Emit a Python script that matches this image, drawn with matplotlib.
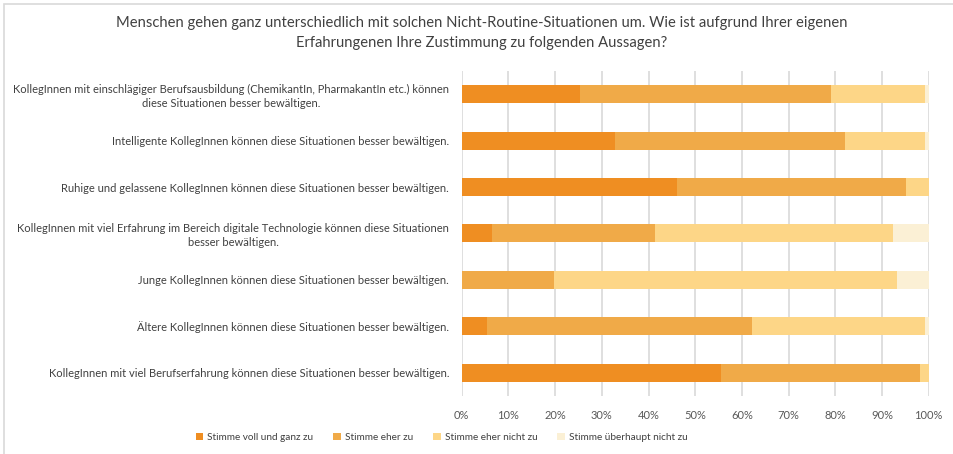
import numpy as np
import matplotlib
matplotlib.use("Agg")
import matplotlib.pyplot as plt
from matplotlib.patches import Rectangle

plt.rcParams['font.family'] = ['Lato', 'DejaVu Sans']

# statements (top to bottom)
labels = [
    "KollegInnen mit einschlägiger Berufsausbildung (ChemikantIn, PharmakantIn etc.) können\ndiese Situationen besser bewältigen.",
    "Intelligente KollegInnen können diese Situationen besser bewältigen.",
    "Ruhige und gelassene KollegInnen können diese Situationen besser bewältigen.",
    "KollegInnen mit viel Erfahrung im Bereich digitale Technologie können diese Situationen\nbesser bewältigen.",
    "Junge KollegInnen können diese Situationen besser bewältigen.",
    "Ältere KollegInnen können diese Situationen besser bewältigen.",
    "KollegInnen mit viel Berufserfahrung können diese Situationen besser bewältigen.",
]
series = ["Stimme voll und ganz zu", "Stimme eher zu", "Stimme eher nicht zu", "Stimme überhaupt nicht zu"]

voll = [25.3, 32.9, 46.1, 6.4, 0.0, 5.4, 55.6]
eher = [53.8, 49.1, 49.1, 35.0, 19.8, 56.7, 42.5]
eher_nicht = [20.0, 17.1, 4.8, 51.0, 73.5, 37.0, 1.9]
gar_nicht = [0.9, 0.9, 0.0, 7.6, 6.7, 0.9, 0.0]

colors = ["#EF8E22", "#F0AA48", "#FDD687", "#FBF0D5"]
ticks = [0, 10, 20, 30, 40, 50, 60, 70, 80, 90, 100]

fig = plt.figure(figsize=(9.54, 4.54), dpi=100)
ax = fig.add_axes([0.484, 0.128, 0.4895, 0.7156])

y = np.arange(len(labels))
left = np.zeros(len(labels))
for vals, name, c in zip([voll, eher, eher_nicht, gar_nicht], series, colors):
    ax.barh(y, vals, left=left, height=0.39, color=c, label=name, zorder=2)
    left = left + np.array(vals)

ax.set_ylim(len(labels) - 0.5, -0.5)
ax.set_xlim(0, 100)
ax.set_xticks(ticks)
ax.set_xticklabels([f"{t}%" for t in ticks], fontsize=8, color="#595959")
ax.set_yticks(y)
ax.set_yticklabels(labels, fontsize=8.0, color="#404040", multialignment="center", linespacing=1.3)
ax.tick_params(axis="both", length=0)
ax.tick_params(axis="x", pad=10)
ax.tick_params(axis="y", pad=9)
ax.grid(axis="x", color="#D9D9D9", linewidth=1.2, zorder=0)
for s in ax.spines.values():
    s.set_visible(False)

fig.text(0.505, 0.965, "Menschen gehen ganz unterschiedlich mit solchen Nicht-Routine-Situationen um. Wie ist aufgrund Ihrer eigenen\nErfahrungenen Ihre Zustimmung zu folgenden Aussagen?",
         ha="center", va="top", fontsize=10.6, color="#404040", linespacing=1.6)

fig.legend(loc="center", bbox_to_anchor=(0.463, 0.037), ncol=4, frameon=False, fontsize=7.2,
           handlelength=0.75, handleheight=0.75, handletextpad=0.4, columnspacing=2.0,
           labelcolor="#404040")

# outer frame
fig.patches.append(Rectangle((4 / 954, -0.1), 1.2, 1 - 4 / 454 + 0.1, transform=fig.transFigure,
                             fill=False, edgecolor="#D9D9D9", linewidth=1.2))

fig.savefig("out.png", dpi=100)
